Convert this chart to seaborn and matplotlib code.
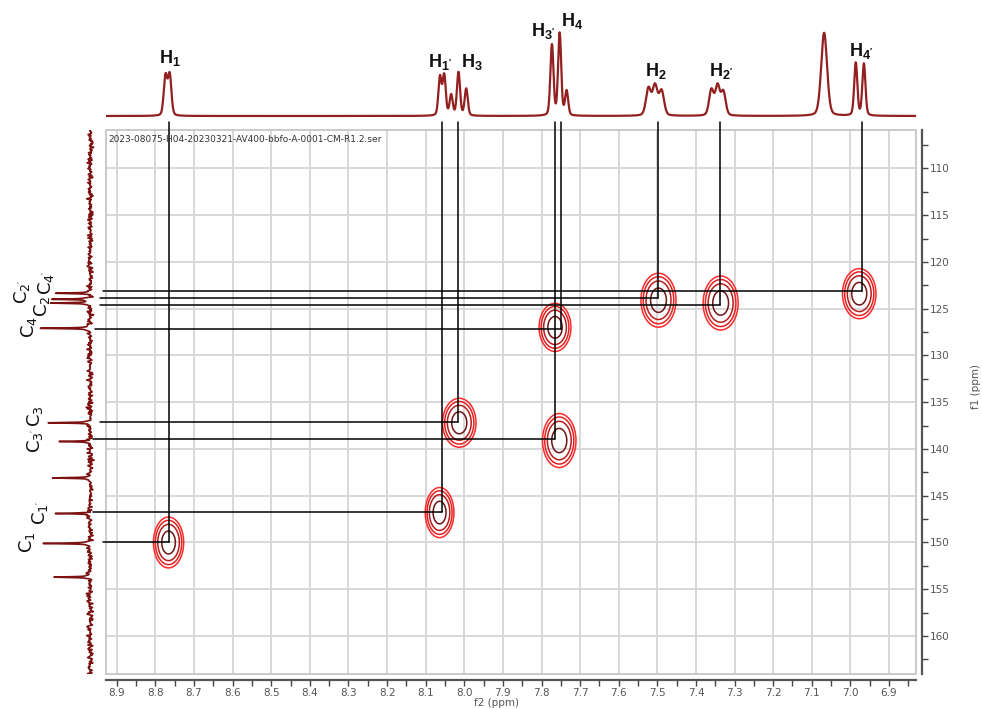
import numpy as np
import pandas as pd
import matplotlib
matplotlib.use("Agg")
import matplotlib.pyplot as plt
from matplotlib.patches import Rectangle
from matplotlib.ticker import MultipleLocator, FormatStrFormatter
import seaborn as sns

# ---- 1H projection (f2): line positions (ppm), heights and line widths (FWHM) ----
h_shifts = [8.774, 8.763, 8.063, 8.052, 8.034, 8.015, 7.995, 7.773, 7.753, 7.735,
            7.523, 7.506, 7.489, 7.360, 7.344, 7.329, 7.068, 6.986, 6.965]
h_heights = [42.7, 43.7, 41.0, 42.7, 22.0, 44.3, 27.7, 72.0, 83.7, 26.0,
             29.3, 32.7, 26.7, 27.7, 32.7, 26.0, 83.3, 53.7, 52.7]
h_fwhm = [0.0105, 0.0105, 0.0095, 0.0095, 0.0095, 0.0095, 0.0095, 0.0095, 0.0095, 0.0095,
          0.0150, 0.0150, 0.0150, 0.0140, 0.0140, 0.0140, 0.0180, 0.0095, 0.0095]

# ---- 13C projection (f1): line positions (ppm) and heights ----
c_shifts = [123.35, 124.0, 124.4, 127.1, 137.2, 139.2, 143.1, 146.9, 150.1, 153.7]
c_heights = [33, 39, 39, 50, 42, 32, 38, 37, 45, 37]

# ---- HSQC cross peaks (f2 ppm, f1 ppm) ----
xpk_h = [8.766, 8.064, 8.013, 7.754, 7.765, 7.497, 7.336, 6.977]
xpk_c = [150.0, 146.8, 137.2, 139.1, 127.0, 124.1, 124.4, 123.4]
xpk_sx = [0.019, 0.018, 0.021, 0.021, 0.020, 0.022, 0.022, 0.021]
xpk_sy = [1.32, 1.30, 1.27, 1.40, 1.25, 1.40, 1.40, 1.30]

# ---- assignments: proton label, proton shift, carbon shift ----
assign_h_label = ["H_{1}", "H_{1'}", "H_{3}", "H_{3'}", "H_{4}", "H_{2}", "H_{2'}", "H_{4'}"]
assign_h = [8.765, 8.058, 8.017, 7.766, 7.749, 7.499, 7.338, 6.970]
assign_c = [150.0, 146.7, 137.1, 138.9, 127.2, 123.9, 124.6, 123.1]

FILE_NAME = "2023-08075-H04-20230321-AV400-bbfo-A-0001-CM-R1.2.ser"

sns.set_theme(style="white")
plt.rcParams.update({
    "font.family": ["DejaVu Sans"],
    "mathtext.fontset": "custom",
    "mathtext.rm": "Liberation Sans",
    "mathtext.bf": "Liberation Sans:bold",
    "mathtext.it": "Liberation Sans:italic",
})

W, H = 982, 709
fig = plt.figure(figsize=(W / 100, H / 100), dpi=100)


def box(l, t, r, b):
    return [l / W, 1 - b / H, (r - l) / W, (b - t) / H]


def px(x, y):
    return x / W, 1 - y / H


def pseudo_voigt(x, x0, fwhm, eta=0.25):
    """Unit-height line shape: mostly Gaussian with a Lorentzian tail."""
    sig = fwhm / 2.3548
    g = np.exp(-(x - x0) ** 2 / (2 * sig ** 2))
    lor = (fwhm / 2) ** 2 / ((x - x0) ** 2 + (fwhm / 2) ** 2)
    return (1 - eta) * g + eta * lor


ax = fig.add_axes(box(106, 130, 916, 674))
ax_top = fig.add_axes(box(106, 8, 916, 120), sharex=ax)
ax_left = fig.add_axes(box(4, 130, 102, 674), sharey=ax)

XLIM = (8.928, 6.83)
YLIM = (164.06, 105.9)
ax.set_xlim(*XLIM)
ax.set_ylim(*YLIM)

TRACE = "#931f1f"

# ---- 1H trace: lines scaled so that the summed trace reaches each height ----
hs = np.array(h_shifts)
hw = np.array(h_fwhm)
M = np.column_stack([pseudo_voigt(hs, s, w) for s, w in zip(hs, hw)])
amp = np.linalg.solve(M, np.array(h_heights))
f2 = np.linspace(XLIM[0], XLIM[1], 5000)
spec_h = sum(a * pseudo_voigt(f2, s, w) for a, s, w in zip(amp, hs, hw))
df_h = pd.DataFrame({"ppm": f2, "intensity": spec_h})
sns.lineplot(data=df_h, x="ppm", y="intensity", ax=ax_top, color=TRACE,
             lw=1.6, sort=False, estimator=None)
ax_top.set_ylim(-4, 108)
ax_top.axis("off")

# H label placement: (f2 ppm, height above baseline)
h_label_pos = [(8.763, 58), (8.062, 54), (7.979, 54), (7.796, 85),
               (7.721, 95), (7.504, 45), (7.335, 45), (6.971, 65)]
for lab, (x, y) in zip(assign_h_label, h_label_pos):
    ax_top.text(x, y, r"$\mathbf{%s}$" % lab, ha="center", va="center",
                fontsize=13, color="#111111", clip_on=False)

# ---- 13C trace (vertical), with baseline noise ----
f1 = np.linspace(105.9, 164.3, 9000)
cg = 0.045
spec_c = np.zeros_like(f1)
for s, h in zip(c_shifts, c_heights):
    spec_c += h * cg ** 2 / ((f1 - s) ** 2 + cg ** 2)
rng = np.random.default_rng(7)
coarse = np.linspace(105.9, 164.3, 820)
baseline_noise = rng.normal(0, 1.5, coarse.size)
spec_c += np.interp(f1, coarse, baseline_noise)
df_c = pd.DataFrame({"ppm": f1, "intensity": spec_c})
sns.lineplot(data=df_c, x="intensity", y="ppm", ax=ax_left, color="#7d1212",
             lw=1.2, sort=False, estimator=None, orient="y")
ax_left.set_xlim(86, -12)
ax_left.axis("off")

# ---- HSQC contours ----
gx = np.linspace(XLIM[0], XLIM[1], 700)
gy = np.linspace(YLIM[1], YLIM[0], 600)
GX, GY = np.meshgrid(gx, gy)
Z = np.zeros_like(GX)
for x0, y0, sx, sy in zip(xpk_h, xpk_c, xpk_sx, xpk_sy):
    Z += np.exp(-((GX - x0) ** 2 / (2 * sx ** 2) + (GY - y0) ** 2 / (2 * sy ** 2)))
ax.contour(GX, GY, Z, levels=[0.12, 0.2, 0.34, 0.65],
           colors=["#ff2a2a", "#e82020", "#b81c1c", "#6e1414"],
           linewidths=1.1, zorder=3)

# ---- correlation guide lines ----
h_line_start = [8.935, 8.962, 8.944, 8.962, 8.957, 8.944, 8.944, 8.935]
for hx, cy, x0 in zip(assign_h, assign_c, h_line_start):
    ax.plot([hx, hx], [105.0, cy], color="black", lw=1.1, clip_on=False, zorder=5)
    ax.plot([x0, hx], [cy, cy], color="black", lw=1.1, clip_on=False, zorder=5)

# ---- frame, grid and axes ----
ax.set_facecolor("white")
ax.add_patch(Rectangle((0, 0), 1, 1, transform=ax.transAxes, fill=False,
                       ec="#c6c6c6", lw=1.3, clip_on=False, zorder=1))
for s in ["top", "left"]:
    ax.spines[s].set_visible(False)
for s in ["bottom", "right"]:
    ax.spines[s].set_position(("outward", 4))
    ax.spines[s].set_color("#555555")
    ax.spines[s].set_linewidth(1.6)
ax.yaxis.tick_right()
ax.xaxis.set_major_locator(MultipleLocator(0.1))
ax.xaxis.set_minor_locator(MultipleLocator(0.05))
ax.yaxis.set_major_locator(MultipleLocator(5))
ax.yaxis.set_minor_locator(MultipleLocator(2.5))
ax.xaxis.set_major_formatter(FormatStrFormatter("%.1f"))
ax.yaxis.set_major_formatter(FormatStrFormatter("%d"))
ax.tick_params(which="both", direction="out", length=4, width=1.0,
               color="#444444", labelsize=7.5, labelcolor="#555555", pad=2,
               bottom=True, right=True, left=False, top=False)
ax.grid(True, which="major", color="#d6d6d6", lw=1.3, zorder=0)
ax.set_axisbelow(True)
ax.set_xlabel("")
ax.set_ylabel("")

fig.text(*px(497, 703), "f2 (ppm)", ha="center", va="center",
         fontsize=7.5, color="#555555")
fig.text(*px(976, 386), "f1 (ppm)", ha="center", va="center",
         fontsize=7.5, color="#555555", rotation=90)
fig.text(*px(108, 139), FILE_NAME, ha="left", va="center",
         fontsize=6.5, color="#333333")

# ---- carbon labels (rotated) ----
c_label_text = [r"$\mathregular{C_{1}}$", r"$\mathregular{C_{1'}}$",
                r"$\mathregular{C_{3'}\,C_{3}}$", r"$\mathregular{C_{4}}$",
                r"$\mathregular{C_{2}}$", r"$\mathregular{C_{4'}}$",
                r"$\mathregular{C_{2'}}$"]
c_label_pos = [(27, 542), (40, 513), (35, 429), (29, 327), (42, 306),
               (46, 283), (22, 292)]
for t, (x, y) in zip(c_label_text, c_label_pos):
    fig.text(*px(x, y), t, ha="center", va="center", rotation=90,
             fontsize=13, color="#111111")

fig.savefig("out.png", dpi=100)
